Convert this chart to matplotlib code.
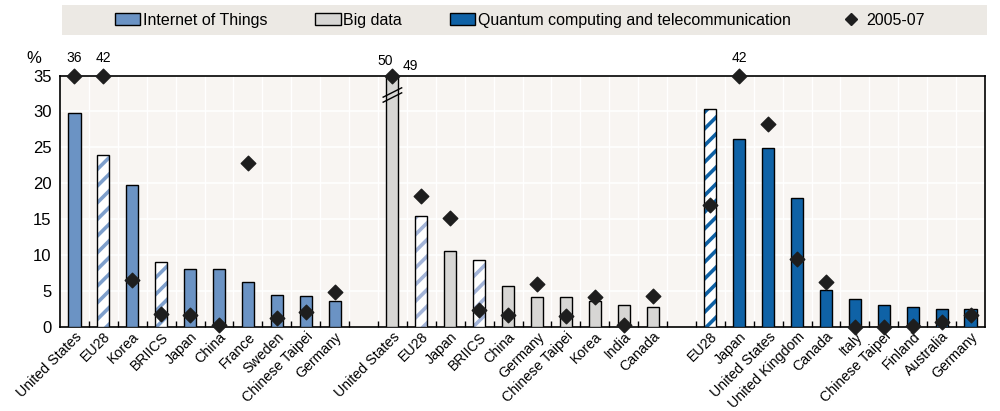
import numpy as np
import matplotlib
matplotlib.use("Agg")
import matplotlib.pyplot as plt
from matplotlib.patches import Patch, Rectangle
from matplotlib.lines import Line2D

plt.rcParams['font.family'] = ['Liberation Sans Narrow', 'Liberation Sans', 'DejaVu Sans']
plt.rcParams['hatch.linewidth'] = 2.6

# data (%), latest period and 2005-07
iot_labels = ["United States", "EU28", "Korea", "BRIICS", "Japan", "China", "France",
              "Sweden", "Chinese Taipei", "Germany"]
iot_vals = [29.8, 24.0, 19.7, 9.0, 8.0, 8.0, 6.3, 4.4, 4.3, 3.6]
iot_old = [36, 42, 6.5, 1.8, 1.7, 0.3, 22.8, 1.2, 2.0, 4.9]

big_labels = ["United States", "EU28", "Japan", "BRIICS", "China", "Germany",
              "Chinese Taipei", "Korea", "India", "Canada"]
big_vals = [50, 15.5, 10.6, 9.3, 5.7, 4.1, 4.1, 3.6, 3.1, 2.8]
big_old = [49, 18.2, 15.1, 2.4, 1.7, 6.0, 1.5, 4.1, 0.3, 4.3]

qc_labels = ["EU28", "Japan", "United States", "United Kingdom", "Canada", "Italy",
             "Chinese Taipei", "Finland", "Australia", "Germany"]
qc_vals = [30.3, 26.2, 24.9, 18.0, 5.1, 3.8, 3.0, 2.7, 2.5, 2.5]
qc_old = [17.0, 42, 28.2, 9.5, 6.2, 0.0, 0.0, 0.1, 0.6, 1.6]

hatched = ["EU28", "BRIICS"]
ymax = 35

c_iot = "#6B93C4"
c_big = "#D7D6D4"
c_qc = "#0F62A6"
hatch_col = {"iot": "#7E9FCC", "big": "#A3B4D8", "qc": "#0F62A6"}
bg = "#F8F5F2"

fig = plt.figure(figsize=(10, 4.11), dpi=100)
ax = fig.add_axes([0.06, 0.205, 0.925, 0.611])
ax.set_facecolor(bg)

groups = [
    (iot_labels, iot_vals, iot_old, c_iot, "iot", 0),
    (big_labels, big_vals, big_old, c_big, "big", 11),
    (qc_labels, qc_vals, qc_old, c_qc, "qc", 22),
]

w = 0.42
xt, xl = [], []
for labels, vals, old, col, key, start in groups:
    x = np.arange(len(labels)) + start
    for xi, lab, v in zip(x, labels, vals):
        if lab in hatched:
            ax.bar(xi, v, w, color="white", edgecolor=hatch_col[key], hatch="//",
                   linewidth=0, zorder=3)
            ax.bar(xi, v, w, color="none", edgecolor="black", linewidth=1.0, zorder=4)
        else:
            ax.bar(xi, v, w, color=col, edgecolor="black", linewidth=1.0, zorder=3)
    y_old = np.minimum(old, ymax)
    ax.scatter(x, y_old, marker="D", s=55, color="#1E1E1E", zorder=6, clip_on=False)
    for xi, v, o in zip(x, vals, old):
        if o > ymax and v > ymax:
            ax.text(xi + 0.35, ymax + 0.3, f"{o:g}", fontsize=10, ha="left", va="bottom")
            ax.text(xi - 0.25, ymax + 1.0, f"{v:g}", fontsize=10, ha="center", va="bottom")
        elif o > ymax:
            ax.text(xi, ymax + 1.5, f"{o:g}", fontsize=10, ha="center", va="bottom")
        if v > ymax:
            # axis break marks across the bar
            for dy in (0, 0.7):
                ax.plot([xi - 0.32, xi + 0.32], [31.3 + dy, 32.6 + dy], color="black",
                        lw=1.0, zorder=5, clip_on=False)
    xt.extend(x)
    xl.extend(labels)

ax.set_xlim(-0.5, 31.5)
ax.set_ylim(0, ymax)
ax.set_yticks(np.arange(0, 36, 5))
ax.tick_params(axis="y", length=0, labelsize=12, pad=6)
ax.set_xticks(xt)
ax.set_xticklabels(xl, rotation=45, ha="right", rotation_mode="anchor", fontsize=10.2)
ax.tick_params(axis="x", length=0, pad=2)
ax.set_xticks(np.arange(0.5, 31, 1), minor=True)
ax.tick_params(axis="x", which="minor", direction="in", length=4, width=1)

for y in np.arange(5, 35, 5):
    ax.axhline(y, color="white", lw=1.2, zorder=1)
for xb in np.arange(0.5, 31, 1):
    ax.axvline(xb, color="white", lw=1.0, zorder=1)

for s in ax.spines.values():
    s.set_linewidth(1.2)
    s.set_color("black")

ax.text(-0.02, 1.04, "%", transform=ax.transAxes, fontsize=12, ha="right", va="bottom")

# legend band
fig.patches.append(Rectangle((0.062, 0.915), 0.925, 0.073, transform=fig.transFigure,
                             facecolor="#ECE9E4", edgecolor="none", zorder=0))
handles = [
    Patch(facecolor=c_iot, edgecolor="black"),
    Patch(facecolor=c_big, edgecolor="black"),
    Patch(facecolor=c_qc, edgecolor="black"),
    Line2D([], [], marker="D", color="#1E1E1E", linestyle="none", markersize=6),
]
names = ["Internet of Things", "Big data", "Quantum computing and telecommunication", "2005-07"]
fig.legend(handles, names, loc="center", bbox_to_anchor=(0.52, 0.951),
           ncol=4, frameon=False, fontsize=11.5, handlelength=1.6,
           handleheight=0.8, handletextpad=0.15, columnspacing=3.0, borderaxespad=0)

fig.savefig("out.png", dpi=100)
